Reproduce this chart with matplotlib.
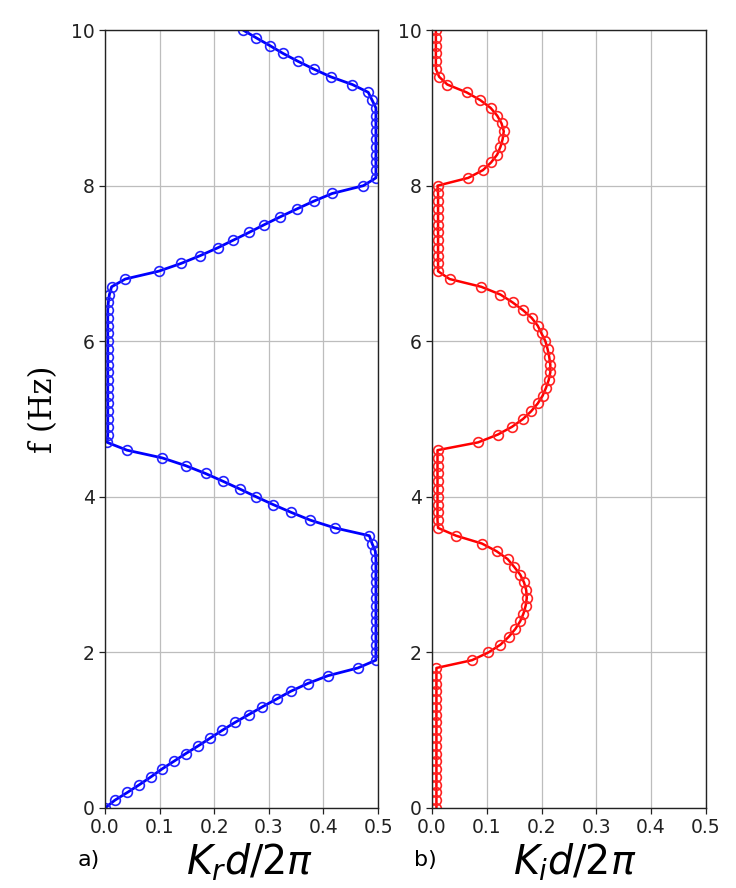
"""Dispersion of a 1D periodic structure: real and imaginary Bloch wavenumber vs frequency."""

import matplotlib
matplotlib.use('Agg')
import matplotlib.pyplot as plt


# frequency samples (Hz), 0.1 Hz step
FREQ_HZ = [
    0.0, 0.1, 0.2, 0.3, 0.4, 0.5, 0.6, 0.7, 0.8, 0.9,
    1.0, 1.1, 1.2, 1.3, 1.4, 1.5, 1.6, 1.7, 1.8, 1.9,
    2.0, 2.1, 2.2, 2.3, 2.4, 2.5, 2.6, 2.7, 2.8, 2.9,
    3.0, 3.1, 3.2, 3.3, 3.4, 3.5, 3.6, 3.7, 3.8, 3.9,
    4.0, 4.1, 4.2, 4.3, 4.4, 4.5, 4.6, 4.7, 4.8, 4.9,
    5.0, 5.1, 5.2, 5.3, 5.4, 5.5, 5.6, 5.7, 5.8, 5.9,
    6.0, 6.1, 6.2, 6.3, 6.4, 6.5, 6.6, 6.7, 6.8, 6.9,
    7.0, 7.1, 7.2, 7.3, 7.4, 7.5, 7.6, 7.7, 7.8, 7.9,
    8.0, 8.1, 8.2, 8.3, 8.4, 8.5, 8.6, 8.7, 8.8, 8.9,
    9.0, 9.1, 9.2, 9.3, 9.4, 9.5, 9.6, 9.7, 9.8, 9.9,
    10.0,
]

# real part K_r d / 2pi
KR = [
    0.000, 0.018, 0.041, 0.063, 0.084, 0.104, 0.126, 0.148, 0.171, 0.193,
    0.215, 0.238, 0.263, 0.288, 0.314, 0.340, 0.371, 0.408, 0.463, 0.496,
    0.496, 0.496, 0.496, 0.496, 0.496, 0.496, 0.496, 0.496, 0.496, 0.496,
    0.496, 0.496, 0.496, 0.495, 0.489, 0.484, 0.421, 0.376, 0.341, 0.308,
    0.277, 0.247, 0.216, 0.184, 0.148, 0.105, 0.040, 0.004, 0.005, 0.005,
    0.005, 0.005, 0.005, 0.005, 0.005, 0.005, 0.005, 0.005, 0.005, 0.005,
    0.005, 0.005, 0.005, 0.005, 0.005, 0.006, 0.008, 0.012, 0.037, 0.098,
    0.139, 0.174, 0.206, 0.235, 0.264, 0.292, 0.321, 0.351, 0.382, 0.416,
    0.473, 0.496, 0.496, 0.496, 0.496, 0.496, 0.496, 0.496, 0.496, 0.496,
    0.496, 0.489, 0.482, 0.453, 0.413, 0.382, 0.353, 0.326, 0.302, 0.277,
    0.253,
]

# imaginary part K_i d / 2pi
KI = [
    0.008, 0.008, 0.008, 0.008, 0.008, 0.008, 0.008, 0.008, 0.008, 0.008,
    0.008, 0.008, 0.008, 0.008, 0.008, 0.008, 0.008, 0.008, 0.008, 0.073,
    0.103, 0.125, 0.140, 0.152, 0.161, 0.167, 0.171, 0.173, 0.172, 0.168,
    0.161, 0.150, 0.138, 0.118, 0.091, 0.044, 0.011, 0.010, 0.010, 0.010,
    0.010, 0.010, 0.010, 0.010, 0.010, 0.010, 0.010, 0.084, 0.120, 0.146,
    0.166, 0.181, 0.193, 0.202, 0.208, 0.213, 0.216, 0.216, 0.214, 0.211,
    0.207, 0.200, 0.193, 0.182, 0.166, 0.147, 0.125, 0.090, 0.032, 0.011,
    0.011, 0.011, 0.011, 0.011, 0.011, 0.011, 0.011, 0.011, 0.011, 0.011,
    0.010, 0.066, 0.093, 0.108, 0.119, 0.125, 0.129, 0.131, 0.127, 0.119,
    0.107, 0.088, 0.063, 0.028, 0.013, 0.007, 0.007, 0.007, 0.007, 0.007,
    0.007,
]

X_TICKS = [0.0, 0.1, 0.2, 0.3, 0.4, 0.5]
Y_TICKS = [0, 2, 4, 6, 8, 10]


def style_axis(ax):
    ax.set_xlim(0, 0.5)
    ax.set_ylim(0, 10)
    ax.set_xticks(X_TICKS)
    ax.set_yticks(Y_TICKS)
    ax.tick_params(labelsize=13.5, length=4, width=0.9, colors='#222222')
    ax.grid(True, color='#bdbdbd', linewidth=0.9)
    ax.set_axisbelow(True)
    for spine in ax.spines.values():
        spine.set_color('#222222')
        spine.set_linewidth(1.0)


fig = plt.figure(figsize=(7.36, 8.88), dpi=100)
ax_r = fig.add_axes([0.1427, 0.0901, 0.371, 0.876])
ax_i = fig.add_axes([0.587, 0.0901, 0.372, 0.876])

ax_r.plot(KR, FREQ_HZ, color='#0000ff', lw=2.0, marker='o', ms=7, mfc='none',
          mec='#2222ff', mew=1.2)
ax_i.plot(KI, FREQ_HZ, color='#ff0000', lw=1.8, marker='o', ms=7, mfc='none',
          mec='#ff2222', mew=1.2)

for ax in (ax_r, ax_i):
    style_axis(ax)

ax_r.set_ylabel('f (Hz)', family='DejaVu Serif', fontsize=22)
ax_r.yaxis.set_label_coords(-0.17, 0.512)
ax_r.set_xlabel(r'$K_r d/2\pi$', fontsize=28.5)
ax_i.set_xlabel(r'$K_i d/2\pi$', fontsize=28.5)
ax_r.xaxis.set_label_coords(0.53, -0.043)
ax_i.xaxis.set_label_coords(0.52, -0.043)

fig.text(0.106, 0.031, 'a)', fontsize=16, ha='left', va='center')
fig.text(0.563, 0.031, 'b)', fontsize=16, ha='left', va='center')

fig.savefig('out.png', dpi=100)
